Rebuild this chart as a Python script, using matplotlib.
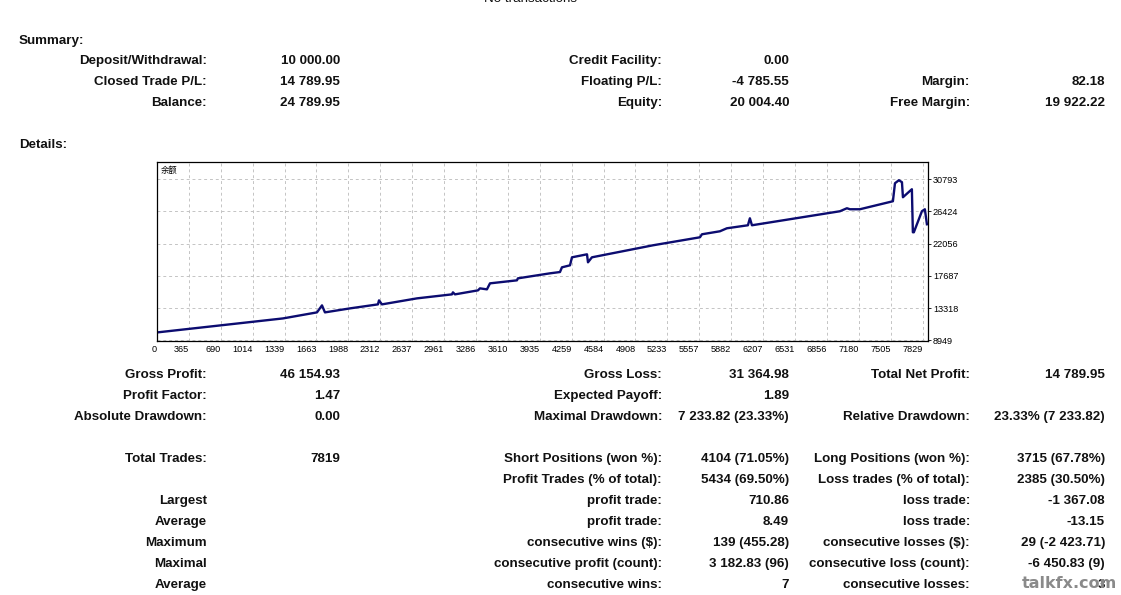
import numpy as np
import matplotlib.pyplot as plt

# balance curve (trade number, balance)
trade_no = [40, 1322, 1668, 1719, 1749, 2004, 2288, 2299, 2329, 2685, 3041, 3051,
            3072, 3306, 3326, 3397, 3428, 3702, 3712, 4038, 4140, 4160, 4242, 4262,
            4415, 4425, 4465, 5086, 5564, 5584, 5767, 5838, 6052, 6072, 6093, 6988,
            7059, 7090, 7191, 7527, 7548, 7588, 7619, 7629, 7720, 7730, 7740, 7822,
            7852, 7873]
balance = [10030, 11930, 12749, 13699, 12749, 13291, 13834, 14377, 13834, 14648, 15191, 15463,
           15191, 15734, 16005, 15870, 16684, 17091, 17362, 18041, 18217, 18855, 19127, 20212,
           20619, 19534, 20212, 21841, 22926, 23333, 23740, 24147, 24555, 25504, 24555, 26455,
           26862, 26726, 26726, 27811, 30254, 30661, 30390, 28354, 29440, 23605, 23605, 26455,
           26726, 24690]

x_labels = ["0", "365", "690", "1014", "1339", "1663", "1988", "2312", "2637", "2961",
            "3286", "3610", "3935", "4259", "4584", "4908", "5233", "5557", "5882", "6207",
            "6531", "6856", "7180", "7505", "7829"]
y_labels = [8949, 13318, 17687, 22056, 26424, 30793]

summary_rows = [
    ("Deposit/Withdrawal:", "10 000.00", "Credit Facility:", "0.00", "", ""),
    ("Closed Trade P/L:", "14 789.95", "Floating P/L:", "-4 785.55", "Margin:", "82.18"),
    ("Balance:", "24 789.95", "Equity:", "20 004.40", "Free Margin:", "19 922.22"),
]
detail_rows = [
    ("Gross Profit:", "46 154.93", "Gross Loss:", "31 364.98", "Total Net Profit:", "14 789.95"),
    ("Profit Factor:", "1.47", "Expected Payoff:", "1.89", "", ""),
    ("Absolute Drawdown:", "0.00", "Maximal Drawdown:", "7 233.82 (23.33%)",
     "Relative Drawdown:", "23.33% (7 233.82)"),
    None,
    ("Total Trades:", "7819", "Short Positions (won %):", "4104 (71.05%)",
     "Long Positions (won %):", "3715 (67.78%)"),
    ("", "", "Profit Trades (% of total):", "5434 (69.50%)",
     "Loss trades (% of total):", "2385 (30.50%)"),
    ("Largest", "", "profit trade:", "710.86", "loss trade:", "-1 367.08"),
    ("Average", "", "profit trade:", "8.49", "loss trade:", "-13.15"),
    ("Maximum", "", "consecutive wins ($):", "139 (455.28)",
     "consecutive losses ($):", "29 (-2 423.71)"),
    ("Maximal", "", "consecutive profit (count):", "3 182.83 (96)",
     "consecutive loss (count):", "-6 450.83 (9)"),
    ("Average", "", "consecutive wins:", "7", "consecutive losses:", "3"),
]

W, H = 1121, 595
fig = plt.figure(figsize=(W / 100, H / 100), dpi=100)
font = dict(family=["Liberation Sans", "DejaVu Sans"], fontsize=9.6, fontweight="bold",
            color="#111111")


def put(x, y, s, ha="right", **kw):
    opts = dict(font)
    opts.update(kw)
    fig.text(x / W, 1 - y / H, s, ha=ha, va="center", **opts)


col_x = [207, 340, 662, 789, 970, 1105]


def put_row(y, row):
    for x, s in zip(col_x, row):
        if s:
            put(x, y, s)


put(530, -1, "No transactions", ha="center", fontweight="normal")
put(19, 41, "Summary:", ha="left")
for i, row in enumerate(summary_rows):
    put_row(61 + 21 * i, row)
put(19, 145, "Details:", ha="left")
for i, row in enumerate(detail_rows):
    if row is not None:
        put_row(375 + 21 * i, row)

# watermark sitting on top of the last value, as in the screenshot
put(1117, 584, "talkfx.com", fontsize=11.5, color="#8a8a8a",
    family=["DejaVu Sans"], zorder=5)

# balance chart
ax = fig.add_axes([157 / W, 1 - 341 / H, (928 - 157) / W, (341 - 162) / H])
ax.plot(trade_no, balance, color="#0c0c70", lw=1.7)
x_pos = 40.5 + 324.5 * np.arange(len(x_labels))
ax.set_xlim(40.5, 7884)
ax.set_ylim(8870, 33130)
ax.set_xticks(x_pos)
ax.set_xticklabels(x_labels, ha="right")
ax.set_yticks(y_labels)
ax.set_yticklabels([str(v) for v in y_labels])
ax.yaxis.tick_right()
ax.tick_params(axis="both", labelsize=6.6, length=2, width=0.6, pad=1.5, colors="black")
ax.tick_params(axis="x", length=0, pad=3)
for t in ax.get_xticklabels() + ax.get_yticklabels():
    t.set_fontfamily(["Liberation Sans", "DejaVu Sans"])
ax.grid(True, color="#c4c4c4", ls=(0, (3, 3)), lw=0.7)
for s in ax.spines.values():
    s.set_linewidth(0.9)
ax.text(0.005, 0.955, "余额", transform=ax.transAxes, fontsize=6,
        family=["Noto Sans CJK SC", "DejaVu Sans"], va="center", ha="left")

fig.savefig("out.png", dpi=100)
